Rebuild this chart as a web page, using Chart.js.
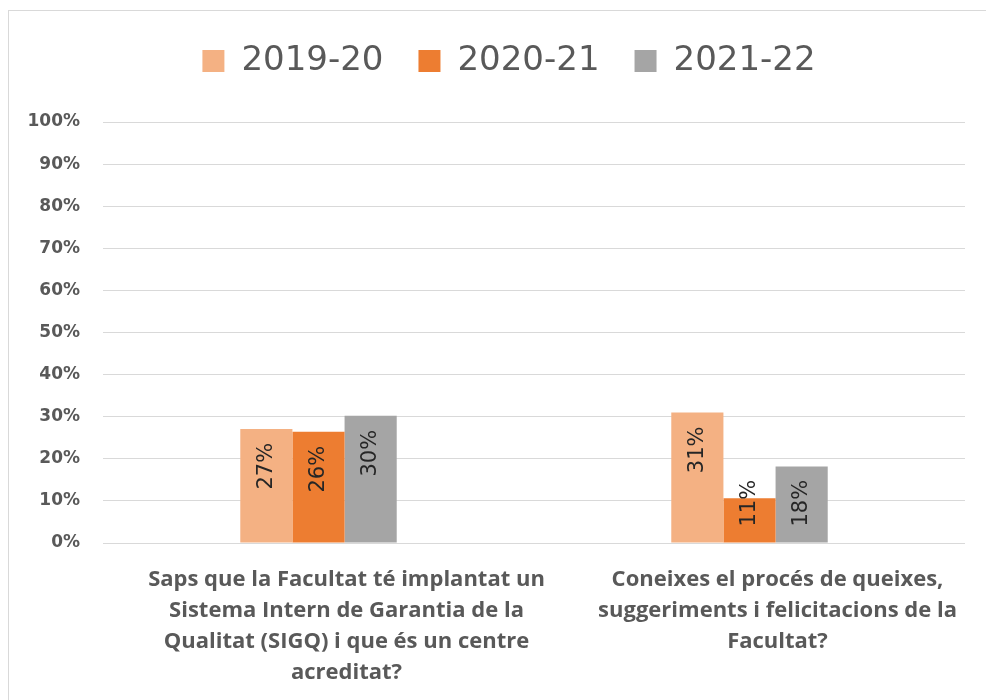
<!DOCTYPE html>
<html>
<head>
<meta charset="utf-8">
<script src="https://cdn.jsdelivr.net/npm/chart.js@4/dist/chart.umd.min.js"></script>
<style>
  html, body { margin: 0; padding: 0; background: #ffffff; }
  #wrap { position: relative; width: 986px; height: 700px; overflow: hidden; }
  #frame { position: absolute; left: 8px; top: 10px; width: 1000px; height: 720px;
           border-left: 1px solid #d9d9d9; border-top: 1px solid #d9d9d9; pointer-events: none; }
</style>
</head>
<body>
<div id="wrap">
  <canvas id="surveyChart" width="986" height="700"></canvas>
  <div id="frame"></div>
</div>
<script>

const categories = [
    [ 'Saps que la Facultat té implantat un', 'Sistema Intern de Garantia de la', 'Qualitat (SIGQ) i que és un centre', 'acreditat?' ],
    [ 'Coneixes el procés de queixes,', 'suggeriments i felicitacions de la', 'Facultat?' ],
];

const seriesNames = [ '2019-20', '2020-21', '2021-22' ];
const values2019 = [ 0.271, 0.31 ];
const values2020 = [ 0.264, 0.106 ];
const values2021 = [ 0.302, 0.182 ];
const seriesColors = [ '#F4B183', '#ED7D31', '#A5A5A5' ];

const yTicks = [ 0, 0.1, 0.2, 0.3, 0.4, 0.5, 0.6, 0.7, 0.8, 0.9, 1 ];

// rotated percentage labels inside the bars
const barLabels = {
    id: 'barLabels',
    afterDatasetsDraw( chart ) {
        let ctx = chart.ctx;
        chart.data.datasets.forEach( function( ds, i ) {
            chart.getDatasetMeta( i ).data.forEach( function( bar, j ) {
                let text = Math.round( ds.data[ j ] * 100 ) + '%';
                ctx.save();
                ctx.font = '21px "DejaVu Sans"';
                ctx.fillStyle = '#262626';
                let w = ctx.measureText( text ).width;
                let top = bar.y + 14;
                if ( top + w > bar.base - 16 ) {
                    top = bar.base - 16 - w;
                }
                ctx.translate( bar.x, top );
                ctx.rotate( -Math.PI / 2 );
                ctx.textAlign = 'right';
                ctx.textBaseline = 'middle';
                ctx.fillText( text, 0, 0 );
                ctx.restore();
            } );
        } );
    }
};

// nudge the legend a little to the right, like the original
const legendShift = {
    id: 'legendShift',
    afterLayout( chart ) {
        chart.legend.left += 14;
        chart.legend.right += 14;
    }
};

const allValues = [ values2019, values2020, values2021 ];

let ctx = document.getElementById( 'surveyChart' ).getContext( '2d' );
let surveyChart = new Chart( ctx, {
    type: 'bar',
    data: {
        labels: categories,
        datasets: seriesNames.map( function( name, i ) {
            return {
                label: name,
                data: allValues[ i ],
                backgroundColor: seriesColors[ i ],
                borderWidth: 0,
                categoryPercentage: 0.363,
                barPercentage: 1.0,
            };
        } ),
    },
    options: {
        responsive: false,
        animation: false,
        layout: {
            padding: { top: 9, left: 25, right: 21, bottom: 0 },
        },
        plugins: {
            legend: {
                position: 'top',
                labels: {
                    boxWidth: 22,
                    boxHeight: 22,
                    padding: 35,
                    color: '#595959',
                    font: { family: '"DejaVu Sans"', size: 34 },
                },
            },
            // empty spacer between legend and plot
            title: {
                display: true,
                text: '',
                weight: 500,
                font: { size: 10, lineHeight: 1.2 },
                padding: { top: 0, bottom: 22 },
            },
            tooltip: { enabled: false },
        },
        scales: {
            x: {
                grid: { display: false, drawTicks: false },
                border: { display: false },
                ticks: {
                    color: '#595959',
                    padding: 21,
                    labelOffset: 28,
                    maxRotation: 0,
                    autoSkip: false,
                    font: { family: '"Open Sans"', size: 22, weight: 'bold', lineHeight: 1.41 },
                },
                afterFit: function( scale ) { scale.height = 157; },
            },
            y: {
                min: 0,
                max: 1,
                afterBuildTicks: function( scale ) {
                    scale.ticks = yTicks.map( function( v ) { return { value: v }; } );
                },
                grid: { color: '#d9d9d9', lineWidth: 1, drawTicks: false },
                border: { display: false },
                ticks: {
                    color: '#595959',
                    padding: 23,
                    font: { family: '"DejaVu Sans"', size: 17, weight: 'bold' },
                    callback: function( v ) { return Math.round( v * 100 ) + '%'; },
                },
                afterFit: function( scale ) { scale.width = 78; },
            },
        },
    },
    plugins: [ barLabels, legendShift ],
} );

</script>
</body>
</html>
